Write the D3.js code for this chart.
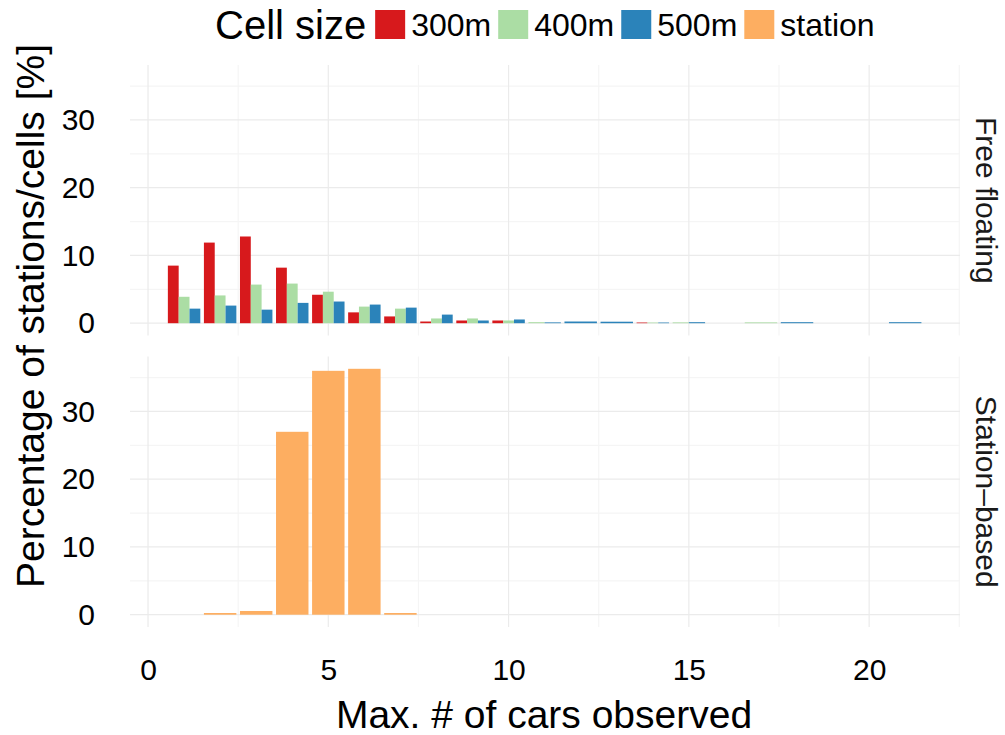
<!DOCTYPE html>
<meta charset="utf-8">
<script src="https://cdn.jsdelivr.net/npm/d3@7"></script>
<style>

body {
  margin: 0;
  background: #fff;
  font-family: "Liberation Sans", Arial, sans-serif;
}

.axis path,
.axis line {
  stroke: none;
}

</style>
<body>
<script>

  //////////////////// Data ////////////////////
  // x = max. number of cars observed, values in percent (null = no bar)
  var carCounts = d3.range(1, 22);
  var cell300 = [8.5, 11.9, 12.8, 8.2, 4.2, 1.6, 1.0, 0.25, 0.4, 0.4, null, null, null, 0.1, null, null, null, null, null, null, null];
  var cell400 = [3.9, 4.1, 5.7, 5.85, 4.65, 2.45, 2.15, 0.7, 0.7, 0.4, 0.15, null, null, 0.1, 0.12, null, 0.12, null, null, null, null];
  var cell500 = [2.15, 2.6, 2.0, 3.0, 3.2, 2.75, 2.3, 1.27, 0.4, 0.55, 0.12, 0.25, 0.22, 0.1, 0.15, null, null, 0.15, null, null, 0.15];
  var stationPct = [null, 0.25, 0.55, 27.0, 36.0, 36.3, 0.25, null, null, null, null, null, null, null, null, null, null, null, null, null, null];

  var seriesNames = ["300m", "400m", "500m", "station"];
  var seriesColors = ["#d7191c", "#abdda4", "#2b83ba", "#fdae61"];
  var facetNames = ["Free floating", "Station\u2013based"];
  var xTicks = [0, 5, 10, 15, 20];
  var yTicks = [0, 10, 20, 30];

  // Set the dimensions of the canvas.
  var width = 1005,
      height = 735,
      panelLeft = 130,
      panelRight = 960,
      panelTops = [65, 356.5],
      panelHeight = 270.5;

  var svg = d3.select("body").append("svg")
    .attr("width", width)
    .attr("height", height);

  // Build the series for each facet
  var facetSeries = [
    [cell300, cell400, cell500].map(function(vals, i) { return {name: seriesNames[i], color: seriesColors[i], values: vals}; }),
    [{name: seriesNames[3], color: seriesColors[3], values: stationPct}]
  ];

  var yMax = d3.max(stationPct);
  var x = d3.scaleLinear()
    .domain([-0.5, 22.52])
    .range([panelLeft, panelRight]);

  //////////////////// Panels ////////////////////
  facetSeries.forEach(function(series, f) {
    var top = panelTops[f];
    var y = d3.scaleLinear()
      .domain([-0.05 * yMax, yMax * 1.05])
      .range([top + panelHeight, top]);

    var g = svg.append("g").attr("class", "panel");

    // minor gridlines
    var grid = g.append("g").attr("class", "grid");
    grid.selectAll(".vminor")
      .data([2.5, 7.5, 12.5, 17.5, 22.5])
      .enter().append("line")
      .attr("x1", x).attr("x2", x)
      .attr("y1", top).attr("y2", top + panelHeight)
      .attr("stroke", "#f5f5f5")
      .attr("stroke-width", 1.2);
    grid.selectAll(".hminor")
      .data([5, 15, 25, 35])
      .enter().append("line")
      .attr("x1", panelLeft).attr("x2", panelRight)
      .attr("y1", y).attr("y2", y)
      .attr("stroke", "#f5f5f5")
      .attr("stroke-width", 1.2);

    // major gridlines
    grid.selectAll(".vmajor")
      .data(xTicks)
      .enter().append("line")
      .attr("x1", x).attr("x2", x)
      .attr("y1", top).attr("y2", top + panelHeight)
      .attr("stroke", "#ebebeb")
      .attr("stroke-width", 1.2);
    grid.selectAll(".hmajor")
      .data(yTicks)
      .enter().append("line")
      .attr("x1", panelLeft).attr("x2", panelRight)
      .attr("y1", y).attr("y2", y)
      .attr("stroke", "#ebebeb")
      .attr("stroke-width", 1.2);

    // bars, dodged among the series present at each x
    var bars = [];
    carCounts.forEach(function(c, i) {
      var present = series.filter(function(s) { return s.values[i] != null; });
      var w = 0.9 / present.length;
      present.forEach(function(s, j) {
        bars.push({x0: c - 0.45 + j * w, x1: c - 0.45 + (j + 1) * w, value: s.values[i], color: s.color});
      });
    });

    g.selectAll(".bar")
      .data(bars)
      .enter().append("rect")
      .attr("class", "bar")
      .attr("x", function(d) { return x(d.x0); })
      .attr("width", function(d) { return x(d.x1) - x(d.x0); })
      .attr("y", function(d) { return y(d.value); })
      .attr("height", function(d) { return y(0) - y(d.value); })
      .attr("fill", function(d) { return d.color; });

    // y-axis
    g.append("g")
      .attr("class", "y axis")
      .attr("transform", "translate(" + (panelLeft - 35) + ",0)")
      .call(d3.axisLeft(y).tickValues(yTicks).tickSize(0).tickPadding(0))
      .selectAll("text")
      .attr("font-size", "30px")
      .attr("font-family", "Liberation Sans, Arial, sans-serif")
      .attr("fill", "#000");

    // strip label
    g.append("text")
      .text(facetNames[f])
      .attr("transform", "translate(976," + (top + panelHeight / 2) + ") rotate(90)")
      .attr("text-anchor", "middle")
      .attr("font-size", "30px")
      .attr("fill", "#1a1a1a");
  });

  // x-axis (bottom panel only)
  svg.append("g")
    .attr("class", "x axis")
    .attr("transform", "translate(0," + (panelTops[1] + panelHeight + 22) + ")")
    .call(d3.axisBottom(x).tickValues(xTicks).tickSize(0).tickPadding(0))
    .selectAll("text")
    .attr("dy", "1.05em")
    .attr("font-size", "30px")
    .attr("font-family", "Liberation Sans, Arial, sans-serif")
    .attr("fill", "#000");

  // axis titles
  svg.append("text")
    .text("Max. # of cars observed")
    .attr("x", 544)
    .attr("y", 728)
    .attr("text-anchor", "middle")
    .attr("font-size", "39px");

  svg.append("text")
    .text("Percentage of stations/cells [%]")
    .attr("transform", "translate(44,316) rotate(-90)")
    .attr("text-anchor", "middle")
    .attr("font-size", "39px");

  //////////////////// Legend ////////////////////
  var legend = svg.append("g").attr("class", "legend");
  var title = legend.append("text")
    .text("Cell size")
    .attr("x", 215)
    .attr("y", 39)
    .attr("font-size", "40px");

  var cursor = 215 + title.node().getComputedTextLength() + 9;
  seriesNames.forEach(function(name, i) {
    legend.append("rect")
      .attr("x", cursor)
      .attr("y", 10)
      .attr("width", 30)
      .attr("height", 29)
      .attr("fill", seriesColors[i]);
    var label = legend.append("text")
      .text(name)
      .attr("x", cursor + 36)
      .attr("y", 36)
      .attr("font-size", "32px");
    cursor += 36 + label.node().getComputedTextLength() + 7;
  });

</script>
</body>
</html>
